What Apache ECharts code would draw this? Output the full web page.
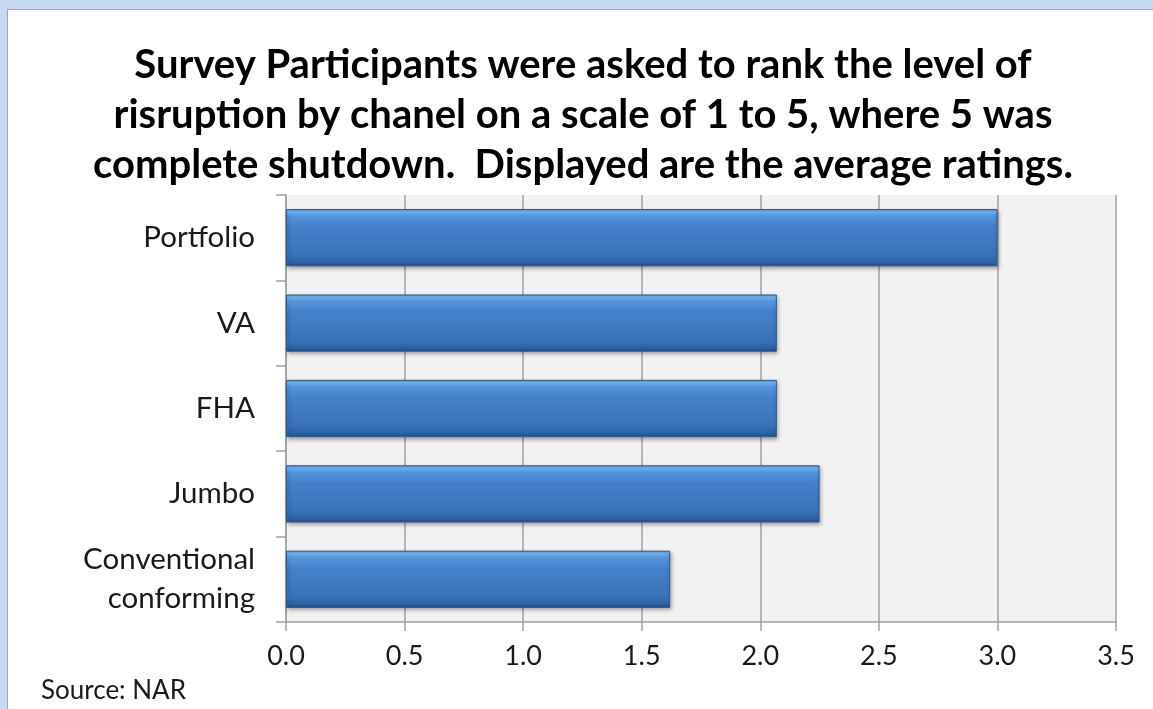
<!DOCTYPE html>
<html>
<head>
<meta charset="utf-8">
<script src="https://cdn.jsdelivr.net/npm/echarts@6/dist/echarts.min.js"></script>
<style>
  html, body { margin: 0; padding: 0; width: 1153px; height: 709px; overflow: hidden; background: #c6d9f1; }
  #frame { position: absolute; left: 7px; top: 9px; width: 1146px; height: 700px; background: #ffffff; border-left: 1px solid #a6a6a6; border-top: 1px solid #a6a6a6; box-sizing: border-box; }
  #chart { position: absolute; left: 0; top: 0; width: 1153px; height: 709px; }
</style>
</head>
<body>
<div id="frame"></div>
<div id="chart"></div>
<script>
const titleLines = [
  'Survey Participants were asked to rank the level of',
  'risruption by chanel on a scale of 1 to 5, where 5 was',
  'complete shutdown.  Displayed are the average ratings.'
];
const sourceText = 'Source: NAR';
const categories = ['Portfolio', 'VA', 'FHA', 'Jumbo', 'Conventional\nconforming'];
const values = [3.0, 2.07, 2.07, 2.25, 1.62];
const xTicks = { min: 0, max: 3.5, interval: 0.5 };

const chart = echarts.init(document.getElementById('chart'), null, { renderer: 'canvas' });
const fontFam = 'Lato, "Open Sans", sans-serif';
const grayLine = '#a0a0a0';

chart.setOption({
  backgroundColor: 'transparent',
  animation: false,
  title: [
    {
      text: titleLines.join('\n'),
      left: 578, top: 35, textAlign: 'center',
      textStyle: { fontFamily: fontFam, fontWeight: 'bold', fontSize: 40, lineHeight: 50, color: '#000' }
    },
    {
      text: sourceText,
      left: 36, top: 673,
      textStyle: { fontFamily: fontFam, fontWeight: 'normal', fontSize: 26, color: '#1a1a1a' }
    }
  ],
  grid: {
    left: 286, right: 37, top: 195, bottom: 87,
    show: true, backgroundColor: '#f2f2f2', borderWidth: 0
  },
  xAxis: {
    type: 'value', min: xTicks.min, max: xTicks.max, interval: xTicks.interval,
    axisLine: { show: true, lineStyle: { color: grayLine, width: 1.5 } },
    axisTick: { show: true, length: 9, lineStyle: { color: grayLine, width: 1.5 } },
    splitLine: { show: true, lineStyle: { color: grayLine, width: 1.5 } },
    axisLabel: {
      margin: 21, fontFamily: fontFam, fontSize: 27, color: '#1a1a1a',
      formatter: v => v.toFixed(1)
    }
  },
  yAxis: {
    type: 'category', data: categories, inverse: true,
    axisLine: { show: true, lineStyle: { color: grayLine, width: 1.5 } },
    axisTick: { show: true, length: 10, lineStyle: { color: grayLine, width: 1.5 } },
    axisLabel: {
      margin: 31, fontFamily: fontFam, fontSize: 29.5, lineHeight: 39, color: '#1a1a1a', align: 'right'
    }
  },
  series: [{
    type: 'bar', data: values, barCategoryGap: '33%',
    itemStyle: {
      color: new echarts.graphic.LinearGradient(0, 0, 0, 1, [
        { offset: 0, color: '#4f8ed8' },
        { offset: 0.05, color: '#79b9f5' },
        { offset: 0.12, color: '#5596de' },
        { offset: 0.3, color: '#4581cb' },
        { offset: 0.8, color: '#3a72b8' },
        { offset: 0.93, color: '#2f62a3' },
        { offset: 1, color: '#244d83' }
      ]),
      borderColor: '#2a5a96', borderWidth: 1,
      shadowColor: 'rgba(0,0,0,0.35)', shadowBlur: 4, shadowOffsetX: 1, shadowOffsetY: 2
    }
  }]
});
</script>
</body>
</html>
